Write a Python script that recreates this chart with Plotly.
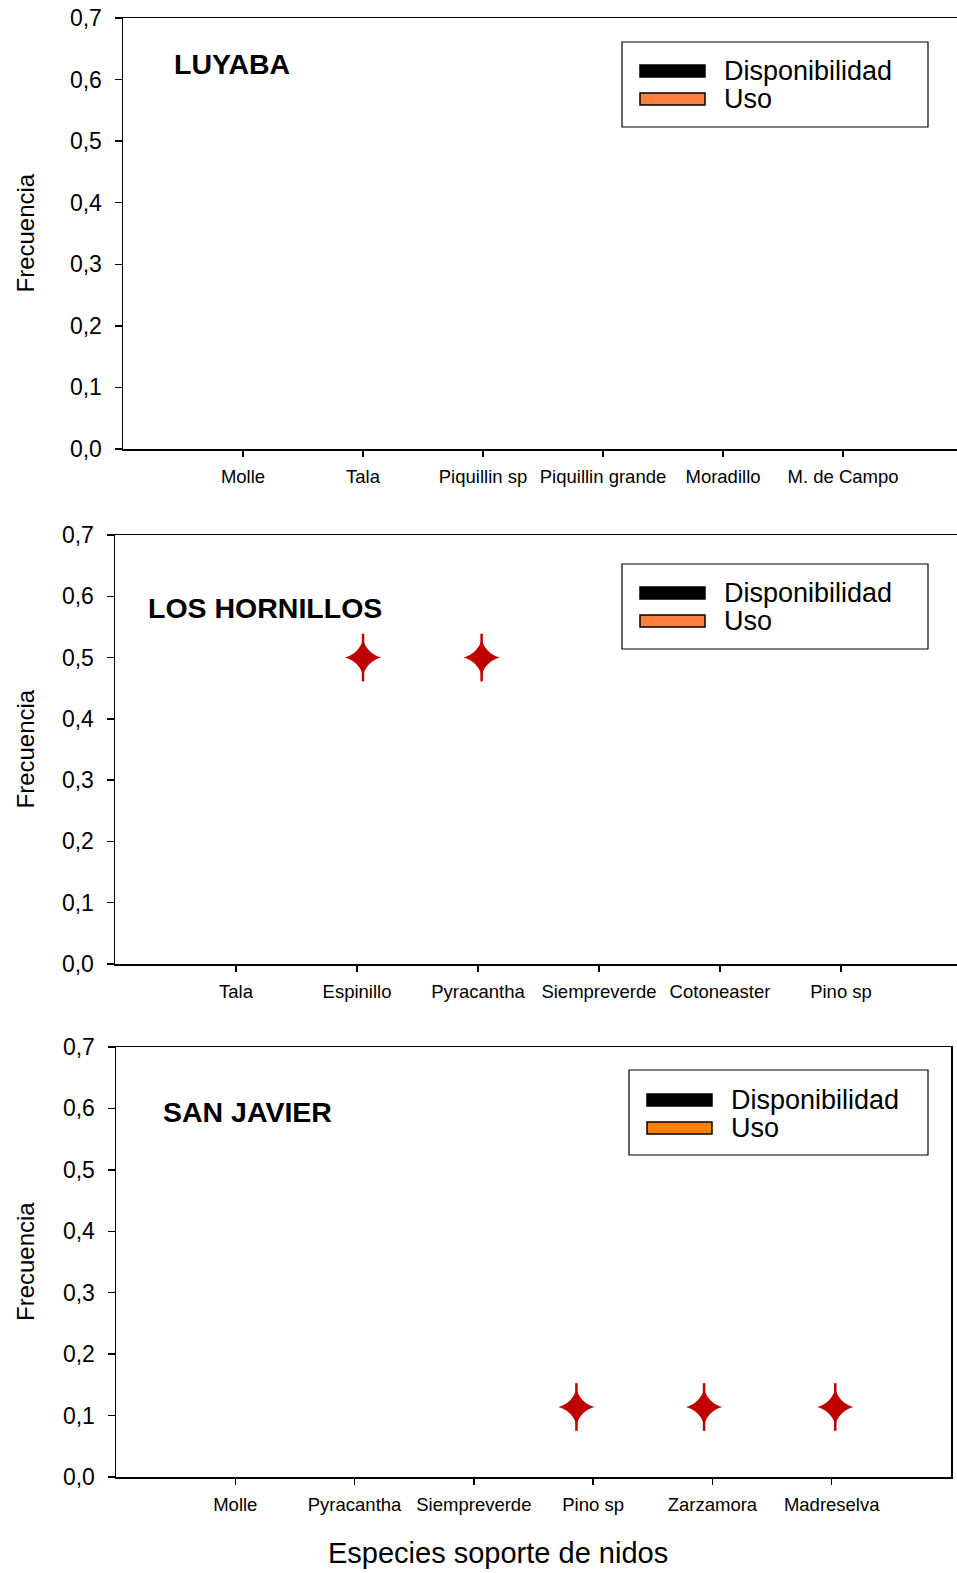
import plotly.graph_objects as go

W, H = 957, 1573

# ---------------- data ----------------
panel_titles = ["LUYABA", "LOS HORNILLOS", "SAN JAVIER"]
cats_luyaba = ["Molle", "Tala", "Piquillin sp", "Piquillin grande", "Moradillo", "M. de Campo"]
cats_hornillos = ["Tala", "Espinillo", "Pyracantha", "Siempreverde", "Cotoneaster", "Pino sp"]
cats_sanjavier = ["Molle", "Pyracantha", "Siempreverde", "Pino sp", "Zarzamora", "Madreselva"]

# significance stars (x in category units, y = frequency)
stars_luyaba_x = []
stars_luyaba_y = []
stars_hornillos_x = [1.05, 2.03]
stars_hornillos_y = [0.50, 0.50]
stars_sanjavier_x = [2.86, 3.93, 5.03]
stars_sanjavier_y = [0.114, 0.114, 0.114]

y_ticks = [0.0, 0.1, 0.2, 0.3, 0.4, 0.5, 0.6, 0.7]
y_tick_text = ["0,0", "0,1", "0,2", "0,3", "0,4", "0,5", "0,6", "0,7"]
legend_labels = ["Disponibilidad", "Uso"]

# ---------------- layout geometry (screen pixels) ----------------
FONT = "Arial, Liberation Sans, sans-serif"

def px(x):
    return x / W

def py(y):
    return 1 - y / H

panels = [
    dict(cats=cats_luyaba, sx=stars_luyaba_x, sy=stars_luyaba_y,
         left=123, right=957, top=18, bottom=449, xmax=(957 - 123) / 120 - 1, mirror_y=False,
         title=panel_titles[0], tx=172, ty=64,
         leg=dict(x0=622, x1=928, y0=42, y1=127, sx0=640, sx1=705, tx=722, r1=71, r2=99, orange="#FF7F3F")),
    dict(cats=cats_hornillos, sx=stars_hornillos_x, sy=stars_hornillos_y,
         left=115, right=957, top=535, bottom=964, xmax=(957 - 115) / 121 - 1, mirror_y=False,
         title=panel_titles[1], tx=146, ty=608,
         leg=dict(x0=622, x1=928, y0=564, y1=649, sx0=640, sx1=705, tx=722, r1=593, r2=621, orange="#FF7F3F")),
    dict(cats=cats_sanjavier, sx=stars_sanjavier_x, sy=stars_sanjavier_y,
         left=116, right=951, top=1047, bottom=1477, xmax=6, mirror_y=True,
         title=panel_titles[2], tx=161, ty=1112,
         leg=dict(x0=629, x1=928, y0=1070, y1=1155, sx0=647, sx1=712, tx=729, r1=1100, r2=1128, orange="#FF8000")),
]

fig = go.Figure()
shapes = []
annotations = []
layout_axes = {}

for i, p in enumerate(panels, start=1):
    xa = "x" if i == 1 else f"x{i}"
    ya = "y" if i == 1 else f"y{i}"
    xkey = "xaxis" if i == 1 else f"xaxis{i}"
    ykey = "yaxis" if i == 1 else f"yaxis{i}"

    layout_axes[xkey] = dict(
        domain=[px(p["left"]), min(1.0, px(p["right"]))],
        anchor=ya, range=[-1, p["xmax"]], automargin=False,
        tickmode="array", tickvals=list(range(len(p["cats"]))), ticktext=p["cats"],
        ticks="outside", ticklen=6, tickwidth=1.5, tickcolor="black",
        showline=True, linecolor="black", linewidth=1.5, mirror=True,
        showgrid=False, zeroline=False, ticklabelstandoff=4,
        tickfont=dict(family=FONT, size=18.5, color="black"),
    )
    layout_axes[ykey] = dict(
        domain=[py(p["bottom"]), py(p["top"])],
        anchor=xa, range=[0, 0.7], automargin=False,
        tickmode="array", tickvals=y_ticks, ticktext=y_tick_text,
        ticks="outside", ticklen=7, tickwidth=1.5, tickcolor="black",
        showline=True, linecolor="black", linewidth=1.5, mirror=p["mirror_y"],
        showgrid=False, zeroline=False, ticklabelstandoff=8, ticklabeloverflow="allow",
        tickfont=dict(family=FONT, size=23, color="black"),
    )

    # stars
    fig.add_trace(go.Scatter(
        x=p["sx"], y=p["sy"], xaxis=xa, yaxis=ya, mode="markers",
        marker=dict(symbol="star-diamond", size=26, color="#C00000", line=dict(width=0)),
        showlegend=False, hoverinfo="skip", cliponaxis=False))
    fig.add_trace(go.Scatter(
        x=p["sx"], y=p["sy"], xaxis=xa, yaxis=ya, mode="markers",
        marker=dict(symbol="line-ns", size=34, color="#C00000", line=dict(width=2.5, color="#C00000")),
        showlegend=False, hoverinfo="skip", cliponaxis=False))

    # panel title
    annotations.append(dict(
        text=f"<b>{p['title']}</b>", x=px(p["tx"]), y=py(p["ty"]), xref="paper", yref="paper",
        xanchor="left", yanchor="middle", showarrow=False,
        font=dict(family=FONT, size=28.5, color="black")))

    # y axis title
    annotations.append(dict(
        text="Frecuencia", x=px(25), y=py((p["top"] + p["bottom"]) / 2), xref="paper", yref="paper",
        xanchor="center", yanchor="middle", textangle=-90, showarrow=False,
        font=dict(family=FONT, size=24, color="black")))

    # legend box
    L = p["leg"]
    shapes.append(dict(type="rect", xref="paper", yref="paper",
                       x0=px(L["x0"]), x1=px(L["x1"]), y0=py(L["y1"]), y1=py(L["y0"]),
                       line=dict(color="black", width=1.2), fillcolor="white"))
    for row_y, col in [(L["r1"], "black"), (L["r2"], L["orange"])]:
        shapes.append(dict(type="rect", xref="paper", yref="paper",
                           x0=px(L["sx0"]), x1=px(L["sx1"]), y0=py(row_y + 6), y1=py(row_y - 6),
                           line=dict(color="black", width=1.5), fillcolor=col))
    for row_y, lab in [(L["r1"], legend_labels[0]), (L["r2"], legend_labels[1])]:
        annotations.append(dict(
            text=lab, x=px(L["tx"]), y=py(row_y), xref="paper", yref="paper",
            xanchor="left", yanchor="middle", showarrow=False,
            font=dict(family=FONT, size=27, color="black")))

# x axis title
annotations.append(dict(
    text="Especies soporte de nidos", x=px(498), y=py(1553), xref="paper", yref="paper",
    xanchor="center", yanchor="middle", showarrow=False,
    font=dict(family=FONT, size=29, color="black")))

fig.update_layout(
    template="none",
    width=W, height=H,
    margin=dict(l=0, r=0, t=0, b=0, pad=0),
    paper_bgcolor="white", plot_bgcolor="white",
    showlegend=False,
    shapes=shapes, annotations=annotations,
    **layout_axes,
)

fig.write_html("out.html", include_plotlyjs=True,
               config={"displayModeBar": False, "staticPlot": True},
               post_script="document.body.style.margin='0';document.body.style.overflow='hidden';")
